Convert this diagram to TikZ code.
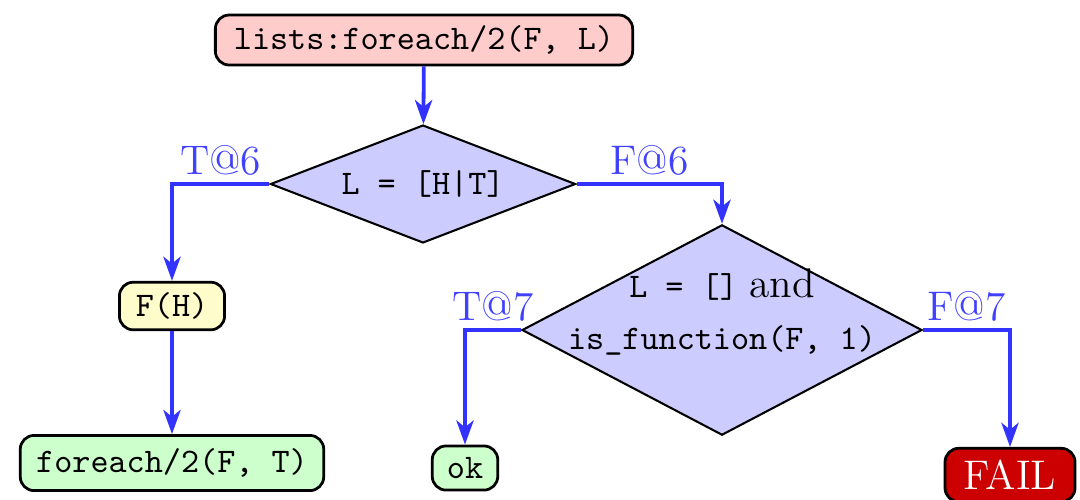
\documentclass[tikz,border=0pt]{standalone}
\usepackage{amsmath}
\usepackage{tikz}
\usetikzlibrary{shapes.geometric,arrows.meta}

\begin{document}
\begin{tikzpicture}[x=0.29pt,y=-0.29pt,
        box/.style={draw=black,thick,rounded corners=4pt,font=\ttfamily,inner sep=0pt},
        test/.style={draw=black,semithick,diamond,fill=blue!20,inner sep=0pt,font=\ttfamily},
        flow/.style={draw=blue!80,line width=1.1pt,-{Stealth[length=7pt,width=5pt,inset=2pt]}},
        cond/.style={text=blue!75,font=\large,above,pos=0.25,inner sep=2pt}]
        \useasboundingbox (0,0) rectangle (1080,499);

        \node[box,fill=red!20,minimum width=121pt,minimum height=14.5pt] (start) at (424,40) {lists:foreach/2(F, L)};

        \node[test,shape aspect=2.6,minimum width=88.5pt,minimum height=34.2pt] (d1) at (423,184) {L = [H|T]};
        \node[test,shape aspect=1.9,minimum width=116pt,minimum height=61pt,
            label={[yshift=5.2pt,align=center,inner sep=0pt]center:\texttt{L = []} {\large and}\\[3pt]\texttt{is\_function(F, 1)}}] (d2) at (722,330) {};

        \node[box,fill=yellow!20,minimum width=30.5pt,minimum height=13.8pt] (fh) at (172,306) {F(H)};
        \node[box,fill=green!20,minimum width=88pt,minimum height=16pt] (ft) at (172,463) {foreach/2(F, T)};
        \node[box,fill=green!20,minimum width=19pt,minimum height=12.8pt] (ok) at (465,468) {ok};
        \node[box,fill=red!80!black,text=white,font=\large,minimum width=37.7pt,minimum height=15.5pt] (fail) at (1010,475) {FAIL};

        \draw[flow] (start) -- (d1);
        \draw[flow] (d1.west) -| node[cond] {T@6} (fh.north);
        \draw[flow] (d1.east) -| node[cond] {F@6} (d2.north);
        \draw[flow] (fh) -- (ft);
        \draw[flow] (d2.west) -| node[cond] {T@7} (ok.north);
        \draw[flow] (d2.east) -| node[cond] {F@7} (fail.north);
    \end{tikzpicture}
\end{document}
